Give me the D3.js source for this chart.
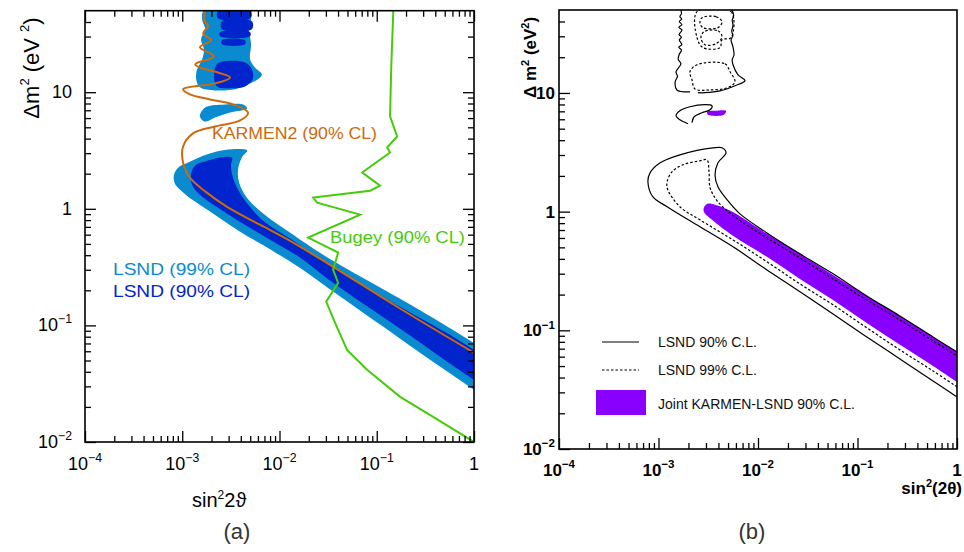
<!DOCTYPE html>
<html>
<head>
<meta charset="utf-8">
<script src="https://cdn.jsdelivr.net/npm/d3@7"></script>
<style>
body { margin: 0; background: #fff; }
svg text { font-family: "Liberation Sans", Arial, sans-serif; }
</style>
</head>
<body>
<div id="master"></div>
<script>
// ---------- panel (a) : sin^2 2theta , dm^2 (eV^2) ----------
// bands start and end on the right border (sin^2 = 1), the fill closes along it
let lsnd99Band = [[1,0.0708],[0.5,0.101],[0.174,0.169],[0.0302,0.388],[0.0128,0.625],[6.6e-3,0.93],[4.6e-3,1.25],[3.84e-3,1.68],[3.75e-3,2.17],[4.1e-3,2.75],[4.65e-3,3.16],[2.75e-3,3.2],[1.72e-3,2.9],[1.15e-3,2.5],[9.1e-4,2.26],[8.2e-4,1.93],[8.4e-4,1.64],[9.5e-4,1.46],[1.26e-3,1.2],[1.93e-3,0.95],[3.9e-3,0.64],[8.0e-3,0.45],[0.0163,0.31],[0.0356,0.195],[0.174,0.077],[0.5,0.0416],[1,0.028]]
let lsnd99Column = [[1.67e-3,50],[1.6e-3,42],[1.72e-3,34.7],[1.56e-3,28.4],[1.67e-3,23.3],[1.6e-3,19.1],[1.42e-3,15.7],[1.39e-3,12.9],[1.52e-3,11.0],[2.17e-3,10.35],[3.49e-3,10.6],[4.43e-3,11.4],[6.0e-3,12.9],[6.6e-3,14.2],[5.6e-3,16.3],[4.99e-3,19.1],[5.1e-3,25.8],[4.86e-3,34.7],[5.1e-3,42],[4.99e-3,50]]
let lsnd99Island = [[1.52e-3,6.2],[1.72e-3,7.4],[2.75e-3,7.85],[4.23e-3,7.85],[4.65e-3,7.26],[3.1e-3,6.7],[2.17e-3,6.08],[1.72e-3,5.6]]
let lsnd90Band = [[1,0.0617],[0.5,0.088],[0.174,0.1445],[0.0302,0.345],[0.0128,0.555],[6.6e-3,0.807],[4.75e-3,1.09],[3.75e-3,1.46],[3.25e-3,1.97],[3.18e-3,2.4],[3.25e-3,2.75],[2.45e-3,2.75],[1.72e-3,2.54],[1.36e-3,2.35],[1.23e-3,1.97],[1.26e-3,1.61],[1.52e-3,1.32],[2.17e-3,1.06],[3.9e-3,0.776],[8.0e-3,0.543],[0.0163,0.381],[0.0356,0.232],[0.174,0.0935],[0.5,0.0506],[1,0.0341]]
let lsnd90Blob = [[2.33e-3,17.7],[4.43e-3,18.0],[5.2e-3,15.7],[5.3e-3,12.9],[4.43e-3,11.2],[3.1e-3,10.8],[2.28e-3,11.2],[2.12e-3,13.9]]
let lsnd90Stripes = [
  [[2.33e-3,49.5],[4.99e-3,49.5],[4.99e-3,43],[2.33e-3,43]],
  [[2.56e-3,40.6],[5.2e-3,40.6],[5.2e-3,34.7],[2.56e-3,34.7]],
  [[2.45e-3,32.6],[4.99e-3,32.6],[4.99e-3,30.2],[2.45e-3,30.2]],
  [[2.56e-3,27.9],[4.43e-3,27.9],[4.43e-3,25.8],[2.56e-3,25.8]]
]
let karmen2 = [[1.72e-3,50],[1.67e-3,42],[1.84e-3,36.7],[1.64e-3,32],[1.98e-3,27.9],[1.52e-3,24.3],[2.12e-3,20.3],[1.36e-3,17.3],[3.1e-3,13.4],[2.17e-3,11.9],[1.02e-3,10.6],[1.2e-3,9.57],[1.93e-3,8.67],[3.33e-3,7.85],[4.75e-3,6.7],[3.94e-3,5.72],[2.17e-3,5.08],[1.29e-3,4.43],[1.02e-3,3.42],[1.02e-3,2.49],[1.2e-3,1.85],[1.72e-3,1.41],[2.89e-3,1.04],[6.3e-3,0.73],[0.0138,0.513],[0.0356,0.318],[0.162,0.1445],[1,0.0582]]
let bugey = [[0.148,50],[0.141,16.7],[0.137,6.2],[0.162,4.17],[0.128,3.36],[0.137,3.04],[0.0708,2.05],[0.108,1.58],[0.0855,1.43],[0.0222,1.25],[0.0244,1.13],[0.0675,0.891],[0.0197,0.566],[0.0401,0.421],[0.0356,0.301],[0.0401,0.232],[0.0302,0.16],[0.0373,0.105],[0.0495,0.0617],[0.0796,0.0416],[0.174,0.0244],[0.38,0.0164],[1,0.01]]

// ---------- panel (b) ----------
let lsnd90Contour = [[1,0.0274],[0.574,0.0374],[0.267,0.0574],[0.124,0.0879],[0.0568,0.137],[0.0264,0.211],[0.0123,0.323],[5.61e-3,0.505],[2.61e-3,0.745],[1.22e-3,1.10],[8.8e-4,1.33],[7.83e-4,1.78],[8.22e-4,2.12],[1.04e-3,2.58],[1.64e-3,3.01],[3.53e-3,3.45],[4.35e-3,3.45],[4.77e-3,3.13],[3.96e-3,2.58],[3.7e-3,2.04],[3.96e-3,1.62],[4.88e-3,1.26],[6.59e-3,0.957],[0.0123,0.662],[0.0264,0.441],[0.0568,0.299],[0.124,0.195],[0.267,0.132],[0.574,0.0879],[1,0.0658]]
let lsnd90TopLeft = [[2.07e-3,10.2],[1.53e-3,10.6],[1.47e-3,12.4],[1.55e-3,13.8],[1.5e-3,15.1],[1.68e-3,17.6],[1.58e-3,19.2],[1.61e-3,21],[1.7e-3,23],[1.6e-3,24.3],[1.72e-3,25.5],[1.62e-3,28],[1.7e-3,29.5],[1.61e-3,31],[1.72e-3,34],[1.6e-3,35.8],[1.72e-3,37.6],[1.62e-3,40],[1.71e-3,42],[1.64e-3,43.9],[1.7e-3,46.5],[1.68e-3,50]]
let lsnd90TopRight = [[5.48e-3,50],[5.7e-3,45],[5.5e-3,41],[5.61e-3,37.6],[5.45e-3,33],[5.6e-3,30.5],[5.36e-3,28.1],[5.6e-3,24.5],[5.74e-3,21],[5.5e-3,19],[5.61e-3,17.3],[6.3e-3,14.2],[7.4e-3,12.7],[5.87e-3,11.5],[4.15e-3,10.4],[2.93e-3,10.05],[2.49e-3,10.05]]
let lsnd90Island = [[2.17e-3,5.61],[2.28e-3,6.3],[2.74e-3,6.81],[3.3e-3,7.21],[3.45e-3,7.8],[2.93e-3,7.96],[2.07e-3,7.65],[1.64e-3,7.08],[1.5e-3,6.43],[1.64e-3,5.94],[1.98e-3,5.5]]
let lsnd99Contour = [[1,0.0334],[0.574,0.0455],[0.267,0.0684],[0.124,0.105],[0.0568,0.164],[0.0264,0.246],[0.0123,0.378],[5.61e-3,0.578],[2.61e-3,0.853],[1.64e-3,1.10],[1.24e-3,1.53],[1.22e-3,1.78],[1.37e-3,2.17],[1.76e-3,2.48],[2.61e-3,2.68],[3.07e-3,2.73],[3.22e-3,2.17],[3.3e-3,1.59],[3.96e-3,1.21],[5.87e-3,0.903],[0.0123,0.601],[0.0264,0.407],[0.0568,0.271],[0.124,0.180],[0.267,0.122],[0.574,0.0815],[1,0.0608]]
let lsnd99Loops = [
  [[2.44e-3,17.3],[4.66e-3,17.6],[5.24e-3,15.1],[5.87e-3,12.4],[4.99e-3,11.1],[3.3e-3,10.6],[2.33e-3,10.8],[2.17e-3,12.9],[2.07e-3,15.1]],
  [[2.44e-3,48.4],[5.36e-3,48.4],[5.36e-3,29.2],[4.35e-3,28.1],[4.15e-3,24.1],[2.8e-3,24.1],[2.44e-3,29.2]],
  [[2.74e-3,43.1],[3.79e-3,43.9],[4.35e-3,39.8],[3.96e-3,35.5],[2.8e-3,35.5],[2.61e-3,39.1]],
  [[2.86e-3,32.8],[3.96e-3,33.4],[4.35e-3,29.8],[3.79e-3,26],[2.93e-3,25.5],[2.67e-3,29.2]]
]
let jointBand = [[1,0.0658],[0.574,0.0879],[0.267,0.132],[0.124,0.195],[0.0568,0.293],[0.0264,0.441],[0.0123,0.650],[5.24e-3,1.02],[3.45e-3,1.16],[3.07e-3,1.16],[2.86e-3,1.08],[2.86e-3,0.995],[3.45e-3,0.853],[5.61e-3,0.625],[0.0123,0.416],[0.0264,0.271],[0.0568,0.180],[0.124,0.115],[0.267,0.0754],[0.574,0.0501],[1,0.0367]]
let jointIsland = [[3.07e-3,6.94],[3.7e-3,7.08],[4.77e-3,7.08],[4.55e-3,6.55],[3.45e-3,6.43],[3.14e-3,6.55]]

let legendB = ["LSND 90% C.L.", "LSND 99% C.L.", "Joint KARMEN-LSND 90% C.L."]
let xMajor = [1e-4, 1e-3, 1e-2, 1e-1, 1]
let xExp = ["-4", "-3", "-2", "-1", ""]
let yMajor = [0.01, 0.1, 1, 10]
let yExp = ["-2", "-1", "", ""]

let w = 964, h = 552
let svg = d3.select("#master").append("svg").attr("width", w).attr("height", h)

let minors = (lo, hi) => {
  let out = []
  for (let e = lo; e < hi; e++) for (let k = 2; k < 10; k++) out.push(k * Math.pow(10, e))
  return out
}
let xMinor = minors(-4, 0)
let yMinor = minors(-2, 2).filter(v => v < 50)

let panel = (name, box) => {
  let x = d3.scaleLog().domain([1e-4, 1]).range([box.left, box.right])
  let y = d3.scaleLog().domain([0.01, 50]).range([box.bottom, box.top])
  svg.append("clipPath").attr("id", "clip-" + name).append("rect")
    .attr("x", box.left).attr("y", box.top).attr("width", box.right - box.left).attr("height", box.bottom - box.top)
  let plot = svg.append("g").attr("clip-path", "url(#clip-" + name + ")")
  let line = d3.line().x(d => x(d[0])).y(d => y(d[1]))
  return {x, y, box, plot, line}
}

let ticks = (p, sides, big, small) => {
  let b = p.box
  let put = (axis, tr, vals, len) => {
    svg.append("g").attr("transform", tr)
      .call(axis.tickValues(vals).tickSize(-len).tickSizeOuter(0).tickFormat(""))
      .call(g => g.select(".domain").remove())
      .call(g => g.selectAll("line").attr("stroke", "#000").attr("stroke-width", 1.3))
  }
  let makeAxis = s => s == "bottom" ? d3.axisBottom(p.x) : s == "top" ? d3.axisTop(p.x) : s == "left" ? d3.axisLeft(p.y) : d3.axisRight(p.y)
  let where = {
    bottom: "translate(0," + b.bottom + ")", top: "translate(0," + b.top + ")",
    left: "translate(" + b.left + ",0)", right: "translate(" + b.right + ",0)"
  }
  sides.forEach(s => {
    let horiz = s == "bottom" || s == "top"
    put(makeAxis(s), where[s], horiz ? xMajor : yMajor, big)
    put(makeAxis(s), where[s], horiz ? xMinor : yMinor, small)
  })
  svg.append("rect").attr("x", b.left).attr("y", b.top).attr("width", b.right - b.left).attr("height", b.bottom - b.top)
    .attr("fill", "none").attr("stroke", "#000").attr("stroke-width", 1.6)
}

let powLabel = (px, py, exp, anchor, size, weight) => {
  let t = svg.append("text").attr("x", px).attr("y", py).attr("text-anchor", anchor)
    .attr("font-size", size).attr("font-weight", weight)
  if (exp === "") return t
  t.append("tspan").text("10")
  t.append("tspan").attr("dy", -size * 0.45).attr("font-size", size * 0.68).text(exp.replace("-", "\u2212"))
  return t
}

// ================= panel (a) =================
let A = panel("a", {left: 85, right: 474, top: 10.7, bottom: 442})
let lightBlue = "#0a8bd0", darkBlue = "#0224cc"
A.plot.append("path").attr("d", A.line.curve(d3.curveCatmullRom)(lsnd99Band)).attr("fill", lightBlue)
;[lsnd99Column, lsnd99Island].forEach(s =>
  A.plot.append("path").attr("d", A.line.curve(d3.curveCatmullRomClosed)(s)).attr("fill", lightBlue))
A.plot.append("path").attr("d", A.line.curve(d3.curveCatmullRom)(lsnd90Band)).attr("fill", darkBlue)
;[lsnd90Blob].concat(lsnd90Stripes).forEach(s =>
  A.plot.append("path").attr("d", A.line.curve(d3.curveCatmullRomClosed)(s)).attr("fill", darkBlue))
A.plot.append("path").attr("d", A.line.curve(d3.curveCatmullRom)(karmen2))
  .attr("fill", "none").attr("stroke", "#cc6a0c").attr("stroke-width", 2)
A.plot.append("path").attr("d", A.line.curve(d3.curveLinear)(bugey))
  .attr("fill", "none").attr("stroke", "#44cc0a").attr("stroke-width", 2)

let noteA = (txt, px, py, len, col) => svg.append("text").attr("x", px).attr("y", py).attr("fill", col)
  .attr("font-family", "DejaVu Sans").attr("font-size", 16.5)
  .attr("textLength", len).attr("lengthAdjust", "spacingAndGlyphs").text(txt)
noteA("KARMEN2 (90% CL)", 212, 139, 165, "#cc6a0c")
noteA("Bugey (90% CL)", 330, 243, 135, "#44cc0a")
noteA("LSND (99% CL)", 113, 275, 137, lightBlue)
noteA("LSND (90% CL)", 113, 297, 137, darkBlue)

ticks(A, ["bottom", "top", "left", "right"], 11, 6)

xMajor.forEach((v, i) => {
  let t = powLabel(A.x(v), 470, xExp[i], "middle", 18, "normal")
  if (xExp[i] === "") t.text("1")
})
yMajor.forEach((v, i) => {
  let t = powLabel(72, A.y(v) + 6, yExp[i], "end", 18, "normal")
  if (yExp[i] === "") t.text(v >= 10 ? "10" : "1")
})
svg.append("text").attr("transform", "translate(39,68) rotate(-90)").attr("text-anchor", "middle")
  .attr("font-family", "DejaVu Sans").attr("font-size", 22)
  .call(t => {
    t.append("tspan").text("\u0394m")
    t.append("tspan").attr("dy", -10).attr("font-size", 13).text("2")
    t.append("tspan").attr("dy", 10).text(" (eV ")
    t.append("tspan").attr("dy", -10).attr("font-size", 13).text("2")
    t.append("tspan").attr("dy", 10).text(")")
  })
svg.append("text").attr("x", 192).attr("y", 507).attr("font-family", "DejaVu Sans").attr("font-size", 20)
  .call(t => {
    t.append("tspan").text("sin")
    t.append("tspan").attr("dy", -8).attr("font-size", 12).text("2")
    t.append("tspan").attr("dy", 8).text("2\u03d1")
  })
svg.append("text").attr("x", 237).attr("y", 539).attr("text-anchor", "middle")
  .attr("font-family", "DejaVu Serif").attr("font-size", 22).attr("fill", "#333").text("(a)")

// ================= panel (b) =================
let B = panel("b", {left: 559, right: 957, top: 10, bottom: 449})
let purple = "#8a00ff"
B.plot.append("path").attr("d", B.line.curve(d3.curveCatmullRom)(jointBand)).attr("fill", purple)
B.plot.append("path").attr("d", B.line.curve(d3.curveCatmullRomClosed)(jointIsland)).attr("fill", purple)
;[lsnd90Contour, lsnd90TopLeft, lsnd90TopRight, lsnd90Island].forEach(s =>
  B.plot.append("path").attr("d", B.line.curve(d3.curveCatmullRom)(s))
    .attr("fill", "none").attr("stroke", "#000").attr("stroke-width", 1.2))
B.plot.append("path").attr("d", B.line.curve(d3.curveCatmullRom)(lsnd99Contour))
  .attr("fill", "none").attr("stroke", "#000").attr("stroke-width", 1.2).attr("stroke-dasharray", "2.5,2")
lsnd99Loops.forEach(s =>
  B.plot.append("path").attr("d", B.line.curve(d3.curveCatmullRomClosed)(s))
    .attr("fill", "none").attr("stroke", "#000").attr("stroke-width", 1.2).attr("stroke-dasharray", "2.5,2"))

// legend
let lg = svg.append("g").attr("id", "legend")
lg.append("line").attr("x1", 602).attr("x2", 639).attr("y1", 342).attr("y2", 342).attr("stroke", "#000").attr("stroke-width", 1.2)
lg.append("line").attr("x1", 602).attr("x2", 639).attr("y1", 370).attr("y2", 370).attr("stroke", "#000").attr("stroke-width", 1.2).attr("stroke-dasharray", "2.5,2")
lg.append("rect").attr("x", 596).attr("y", 390).attr("width", 50).attr("height", 25).attr("fill", purple)
lg.selectAll("text").data(legendB).enter().append("text")
  .attr("x", 658).attr("y", (d, i) => [347, 375, 409][i]).attr("font-size", 14).attr("fill", "#111").text(d => d)

ticks(B, ["bottom", "left"], 11, 6)

xMajor.forEach((v, i) => {
  let t = powLabel(B.x(v), 476, xExp[i], "middle", 17, "bold")
  if (xExp[i] === "") t.text("1")
})
yMajor.forEach((v, i) => {
  let t = powLabel(555, B.y(v) + 6, yExp[i], "end", 17, "bold")
  if (yExp[i] === "") t.text(v >= 10 ? "10" : "1")
})
svg.append("text").attr("transform", "translate(536,98) rotate(-90)").attr("text-anchor", "start")
  .attr("font-size", 17).attr("font-weight", "bold")
  .call(t => {
    t.append("tspan").text("\u0394 m")
    t.append("tspan").attr("dy", -7).attr("font-size", 11).text("2")
    t.append("tspan").attr("dy", 7).text(" (eV")
    t.append("tspan").attr("dy", -7).attr("font-size", 11).text("2")
    t.append("tspan").attr("dy", 7).text(")")
  })
svg.append("text").attr("x", 962).attr("y", 494).attr("text-anchor", "end").attr("font-size", 17).attr("font-weight", "bold")
  .call(t => {
    t.append("tspan").text("sin")
    t.append("tspan").attr("dy", -7).attr("font-size", 11).text("2")
    t.append("tspan").attr("dy", 7).text("(2\u03b8)")
  })
svg.append("text").attr("x", 752).attr("y", 539).attr("text-anchor", "middle")
  .attr("font-family", "DejaVu Serif").attr("font-size", 22).attr("fill", "#333").text("(b)")
</script>
</body>
</html>
